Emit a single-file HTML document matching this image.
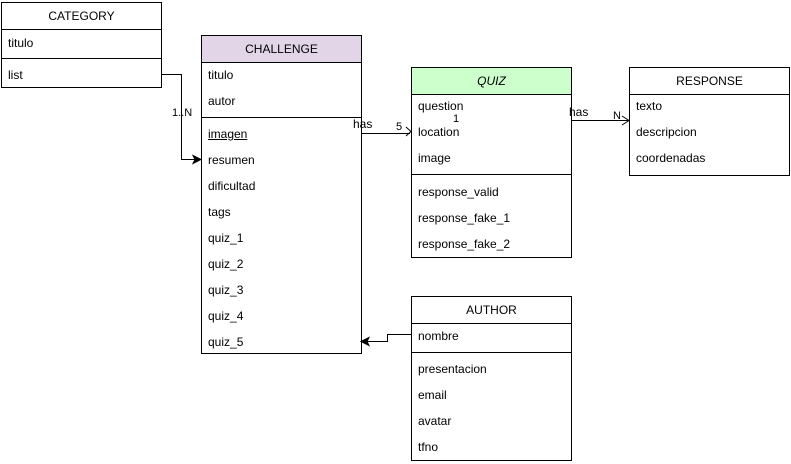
<!DOCTYPE html>
<html><head><meta charset="utf-8"><style>
body{margin:0;width:791px;height:464px;background:#fff;position:relative;font-family:"Liberation Sans",Arial,sans-serif;font-size:12px;color:#000;overflow:hidden}
.b{position:absolute;border:1px solid #000;background:#fff;box-sizing:border-box}
.h{position:absolute;left:0;right:0;top:0;height:26px;border-bottom:1px solid #000;text-align:center;line-height:26px}
.t{position:absolute;left:6px;line-height:14px}
.d{position:absolute;left:0;right:0;border-top:1px solid #000}
.l{position:absolute;font-size:11px;line-height:12px}
</style></head><body>
<div class="b" style="left:1px;top:2px;width:161px;height:86px">
<div class="h">CATEGORY</div>
<div class="t" style="top:33px">titulo</div><div class="d" style="top:55px"></div>
<div class="t" style="top:65px">list</div></div>

<div class="b" style="left:201px;top:35px;width:161px;height:319px">
<div class="h" style="background:#e1d5e7">CHALLENGE</div>
<div class="t" style="top:32px">titulo</div>
<div class="t" style="top:58px">autor</div>
<div class="d" style="top:81px"></div>
<div class="t" style="top:91px;text-decoration:underline">imagen</div>
<div class="t" style="top:117px">resumen</div>
<div class="t" style="top:143px">dificultad</div>
<div class="t" style="top:169px">tags</div>
<div class="t" style="top:195px">quiz_1</div>
<div class="t" style="top:221px">quiz_2</div>
<div class="t" style="top:247px">quiz_3</div>
<div class="t" style="top:273px">quiz_4</div>
<div class="t" style="top:299px">quiz_5</div></div>

<div class="b" style="left:411px;top:67px;width:161px;height:191px">
<div class="h" style="background:#ccffcc;font-style:italic">QUIZ</div>
<div class="t" style="top:31px">question</div>
<div class="t" style="top:57px">location</div>
<div class="t" style="top:83px">image</div>
<div class="d" style="top:106px"></div>
<div class="t" style="top:117px">response_valid</div>
<div class="t" style="top:143px">response_fake_1</div>
<div class="t" style="top:169px">response_fake_2</div></div>

<div class="b" style="left:629px;top:67px;width:161px;height:109px">
<div class="h">RESPONSE</div>
<div class="t" style="top:31px">texto</div>
<div class="t" style="top:57px">descripcion</div>
<div class="t" style="top:83px">coordenadas</div></div>

<div class="b" style="left:411px;top:296px;width:161px;height:165px">
<div class="h">AUTHOR</div>
<div class="t" style="top:32px">nombre</div>
<div class="d" style="top:55px"></div>
<div class="t" style="top:65px">presentacion</div>
<div class="t" style="top:91px">email</div>
<div class="t" style="top:117px">avatar</div>
<div class="t" style="top:143px">tfno</div></div>

<svg width="791" height="464" style="position:absolute;left:0;top:0" fill="none" stroke="#000">
<path d="M162 74.5H181.5V159.5H196"/><path d="M201 159.5L193 155.5L195 159.5L193 163.5Z" fill="#000"/>
<path d="M362 133.5H410"/><path d="M406 127L411 131.5L406 136" />
<path d="M572 120.5H628"/><path d="M622 116L629 120.5L622 125"/>
<path d="M411 334.5H387.5V341.5H366"/><path d="M361 341.5L369 337.5L367 341.5L369 345.5Z" fill="#000"/>
</svg>
<div class="l" style="left:172px;top:107px">1..N</div>
<div class="l" style="left:353px;top:118px;font-size:12px">has</div>
<div class="l" style="left:396px;top:121px">5</div>
<div class="l" style="left:453px;top:113px">1</div>
<div class="l" style="left:569px;top:106px;font-size:12px">has</div>
<div class="l" style="left:613px;top:110px">N</div>
</body></html>
